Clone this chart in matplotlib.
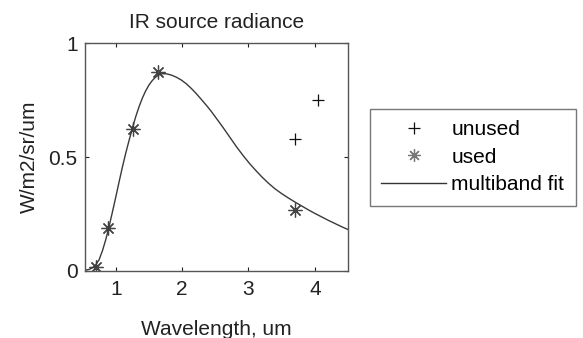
import matplotlib
matplotlib.use("Agg")
import matplotlib.pyplot as plt
from matplotlib.lines import Line2D

plt.rcParams['font.family'] = ['Liberation Sans', 'DejaVu Sans']

# Data
used_x = [0.705, 0.88, 1.257, 1.635, 3.70]
used_y = [0.018, 0.189, 0.625, 0.873, 0.266]
unused_x = [3.70, 4.05]
unused_y = [0.58, 0.749]
fit_x = [0.538, 0.60, 0.65, 0.70, 0.75, 0.80, 0.85, 0.90, 0.95, 1.00, 1.05, 1.10,
         1.15, 1.20, 1.25, 1.30, 1.35, 1.40, 1.45, 1.50, 1.55, 1.60, 1.65, 1.70,
         1.76, 1.84, 1.912, 1.99, 2.063, 2.14, 2.215, 2.29, 2.366, 2.43, 2.491,
         2.616, 2.719, 2.819, 2.92, 3.02, 3.10, 3.20, 3.30, 3.40, 3.50, 3.60, 3.70,
         3.80, 3.90, 4.00, 4.10, 4.20, 4.30, 4.40, 4.50]
fit_y = [0.002, 0.006, 0.013, 0.026, 0.049, 0.088, 0.137, 0.195, 0.258, 0.323, 0.390,
         0.455, 0.516, 0.572, 0.626, 0.676, 0.720, 0.758, 0.790, 0.816, 0.836, 0.851,
         0.861, 0.866, 0.866, 0.860, 0.851, 0.838, 0.822, 0.801, 0.778, 0.753, 0.727,
         0.704, 0.680, 0.630, 0.587, 0.545, 0.506, 0.470, 0.444, 0.413, 0.385, 0.360,
         0.339, 0.320, 0.302, 0.285, 0.268, 0.252, 0.237, 0.222, 0.208, 0.194, 0.181]
x_ticks = [1, 2, 3, 4]
y_ticks = [0, 0.5, 1]
y_ticklabels = ['0', '0.5', '1']

fig = plt.figure(figsize=(5.83, 3.38), dpi=100)
ax = fig.add_axes([0.145, 0.199, 0.452, 0.673])

asterisk = (8, 2, 0)
ax.plot(unused_x, unused_y, linestyle='none', marker='+', markersize=9,
        markeredgewidth=0.9, color='#111111')
ax.plot(used_x, used_y, linestyle='none', marker=asterisk, markersize=10,
        markeredgewidth=0.9, color='#444444')
ax.plot(fit_x, fit_y, '-', color='#3a3a3a', linewidth=1.0)

ax.set_xlim(0.53, 4.5)
ax.set_ylim(0, 1)
ax.set_xticks(x_ticks)
ax.set_yticks(y_ticks)
ax.set_yticklabels(y_ticklabels)
ax.tick_params(direction='in', top=True, right=True, length=3, width=0.8,
               labelsize=15, colors='#222222')
ax.tick_params(axis='x', pad=7)
ax.tick_params(axis='y', pad=5)
for s in ax.spines.values():
    s.set_color('#555555')
    s.set_linewidth(1.0)

ax.set_title('IR source radiance', fontsize=15, pad=11, color='#222222')
ax.set_xlabel('Wavelength, um', fontsize=15, labelpad=15, color='#222222')
ax.set_ylabel('W/m2/sr/um', fontsize=15, labelpad=7, color='#222222')

handles = [
    Line2D([], [], linestyle='none', marker='+', markersize=9, markeredgewidth=0.9,
           color='#111111'),
    Line2D([], [], linestyle='none', marker=asterisk, markersize=9,
           markeredgewidth=0.9, color='#777777'),
    Line2D([], [], linestyle='-', color='#333333', linewidth=1.0),
]
leg = fig.legend(handles, ['unused', 'used', 'multiband fit'],
                 loc='upper left', bbox_to_anchor=(370 / 583, 1 - 109 / 338),
                 fontsize=15, frameon=True, fancybox=False, handlelength=3.1,
                 handletextpad=0.25, labelspacing=0.4, borderpad=0.55,
                 borderaxespad=0)
leg.get_frame().set_edgecolor('#555555')
leg.get_frame().set_linewidth(1.0)

fig.savefig('out.png', dpi=100)
